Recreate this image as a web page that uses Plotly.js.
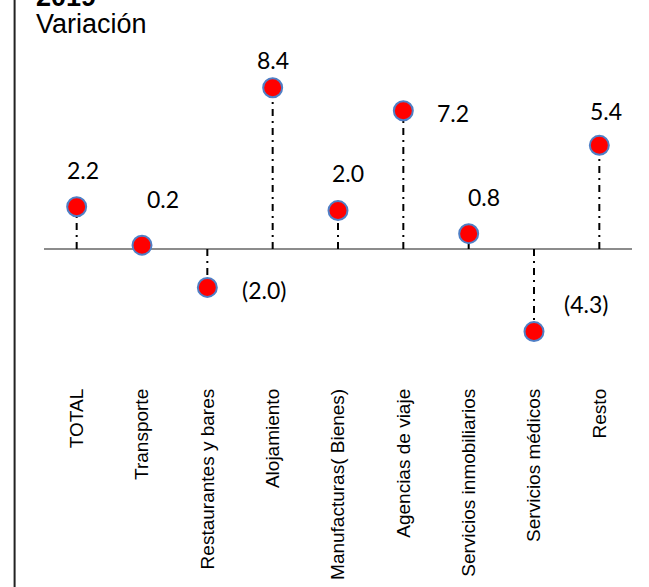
<!DOCTYPE html>
<html>
<head>
<meta charset="utf-8">
<script src="https://cdn.plot.ly/plotly-3.0.1.min.js"></script>
<style>html,body{margin:0;padding:0;background:#fff;}#chart{width:649px;height:587px;}</style>
</head>
<body>
<div id="chart"></div>
<script>
const categories = ["TOTAL","Transporte","Restaurantes y bares","Alojamiento","Manufacturas( Bienes)","Agencias de viaje","Servicios inmobiliarios","Servicios médicos","Resto"];
const values = [2.2, 0.2, -2.0, 8.4, 2.0, 7.2, 0.8, -4.3, 5.4];
const valueLabels = ["2.2","0.2","(2.0)","8.4","2.0","7.2","0.8","(4.3)","5.4"];
const labelOffsetX = [6, 21, 57, 0, 10, 50, 15, 52, 7];
const labelOffsetY = [-37, -46, 3, -28, -38, 2, -37, -28, -34];

const dropX = [], dropY = [];
categories.forEach((c, i) => { dropX.push(c, c, null); dropY.push(0, values[i], null); });

const traces = [
  {
    x: dropX, y: dropY, type: 'scatter', mode: 'lines',
    line: {color: '#000', width: 2, dash: '7px,5px,2px,5px'},
    hoverinfo: 'skip', showlegend: false
  },
  {
    x: categories, y: values, type: 'scatter', mode: 'markers',
    marker: {color: '#ff0000', size: 19, line: {color: '#4f7fc6', width: 2}},
    cliponaxis: false, showlegend: false
  }
];

const annotations = categories.map((c, i) => ({
  x: c, y: values[i], xref: 'x', yref: 'y',
  text: valueLabels[i], showarrow: false,
  xshift: labelOffsetX[i], yshift: -labelOffsetY[i],
  font: {family: 'Lato, "Open Sans", sans-serif', size: 23, color: '#000'}
}));
annotations.push({
  xref: 'paper', yref: 'paper', x: -0.017, y: 1, xanchor: 'left', yanchor: 'middle',
  yshift: 16, text: 'Variación', showarrow: false,
  font: {family: 'Liberation Sans, Arial, sans-serif', size: 27, color: '#000'}
});
annotations.push({
  xref: 'paper', yref: 'paper', x: -0.017, y: 1, xanchor: 'left', yanchor: 'middle',
  yshift: 43, text: '<b>2019</b>', showarrow: false,
  font: {family: 'Liberation Sans, Arial, sans-serif', size: 27, color: '#000'}
});

const layout = {
  width: 649, height: 587,
  margin: {l: 44, r: 17, t: 40, b: 203},
  paper_bgcolor: '#fff', plot_bgcolor: '#fff',
  xaxis: {
    type: 'category', range: [-0.5, 8.5], tickangle: -90,
    showgrid: false, zeroline: false, showline: false, ticks: '',
    tickfont: {family: 'Liberation Sans, Arial, sans-serif', size: 19, color: '#000'},
    fixedrange: true
  },
  yaxis: {
    range: [-7.03, 10.885], showgrid: false, showticklabels: false,
    zeroline: true, zerolinecolor: '#8c8c8c', zerolinewidth: 2,
    showline: false, ticks: '', fixedrange: true
  },
  shapes: [{
    type: 'line', xref: 'paper', yref: 'paper',
    x0: -0.05, x1: -0.05, y0: -0.7, y1: 1.2,
    line: {color: '#222', width: 2}
  }],
  annotations: annotations
};

Plotly.newPlot('chart', traces, layout, {displayModeBar: false, staticPlot: true});
</script>
</body>
</html>
